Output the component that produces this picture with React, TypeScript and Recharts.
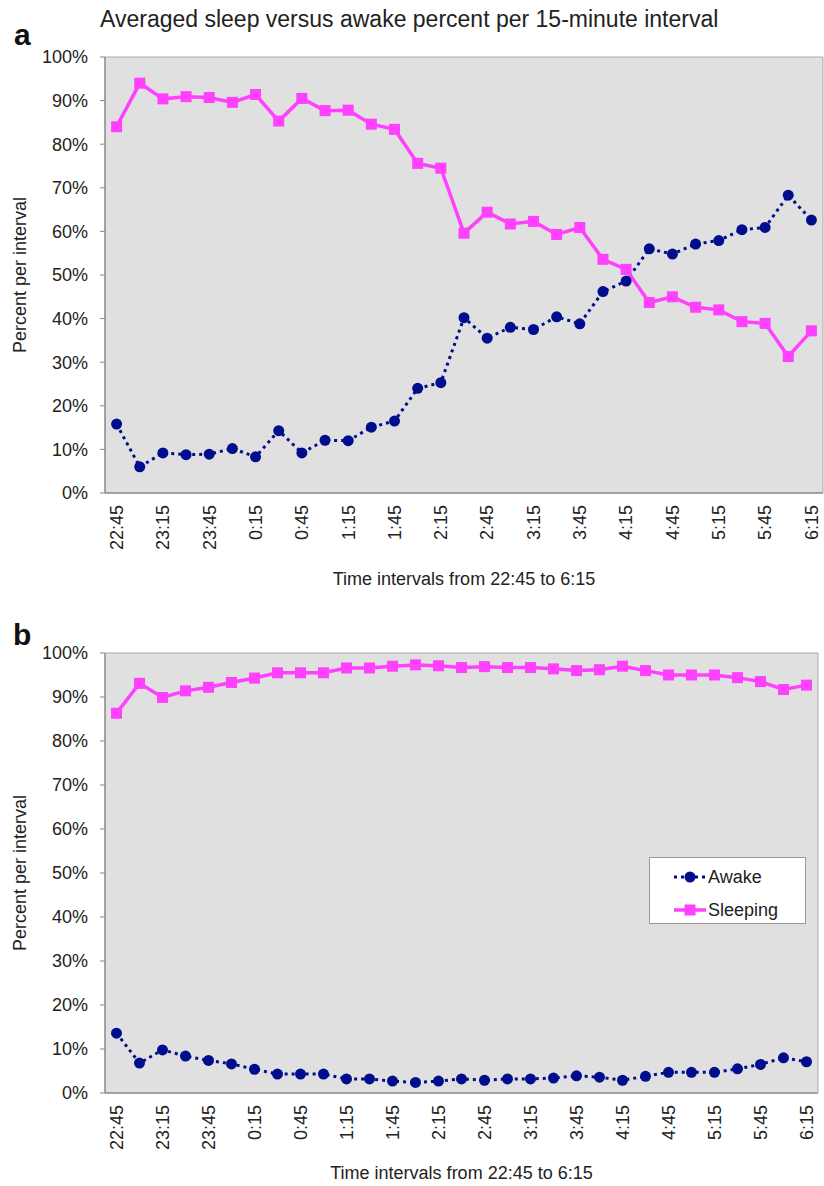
import React from 'react';
import { LineChart, Line, XAxis, YAxis, CartesianGrid, Legend } from 'recharts';

// 15-minute intervals from 22:45 to 6:15
const times = [
  '22:45', '23:00', '23:15', '23:30', '23:45', '0:00', '0:15', '0:30', '0:45', '1:00', '1:15',
  '1:30', '1:45', '2:00', '2:15', '2:30', '2:45', '3:00', '3:15', '3:30', '3:45', '4:00',
  '4:15', '4:30', '4:45', '5:00', '5:15', '5:30', '5:45', '6:00', '6:15',
];

// panel a
const awakeA = [15.8, 6.0, 9.2, 8.8, 8.9, 10.2, 8.3, 14.3, 9.2, 12.1, 12.0, 15.1, 16.5, 24.0, 25.3, 40.2, 35.5, 38.0, 37.5, 40.4, 38.8, 46.2, 48.6, 56.0, 54.8, 57.1, 57.9, 60.4, 60.9, 68.3, 62.6];
const sleepingA = [84.0, 94.0, 90.4, 90.9, 90.7, 89.6, 91.4, 85.3, 90.5, 87.7, 87.8, 84.6, 83.4, 75.6, 74.5, 59.6, 64.4, 61.7, 62.3, 59.3, 60.9, 53.6, 51.3, 43.7, 45.0, 42.6, 42.0, 39.3, 38.9, 31.3, 37.2];

// panel b
const awakeB = [13.6, 6.8, 9.8, 8.4, 7.4, 6.6, 5.4, 4.3, 4.3, 4.3, 3.2, 3.2, 2.7, 2.4, 2.7, 3.2, 2.9, 3.2, 3.2, 3.4, 3.9, 3.6, 2.9, 3.8, 4.7, 4.7, 4.7, 5.5, 6.5, 8.0, 7.1];
const sleepingB = [86.3, 93.1, 89.9, 91.4, 92.2, 93.3, 94.3, 95.5, 95.5, 95.5, 96.6, 96.6, 97.0, 97.3, 97.1, 96.7, 96.9, 96.7, 96.7, 96.4, 96.0, 96.2, 97.0, 96.0, 95.0, 95.0, 95.0, 94.4, 93.5, 91.7, 92.7];

const percentTicks = [0, 10, 20, 30, 40, 50, 60, 70, 80, 90, 100];
// tick marks sit between the categories, not under them
const bandEdges = times.map((_, i) => i).concat(times.length);

const NAVY = '#000d8c';
const MAGENTA = '#ff40ff';
const TEXT = '#222';
const AXIS = '#888';
const FONT = '"Liberation Sans", Arial, Helvetica, sans-serif';

const TimeTick = ({ x, y, payload }: any) => (
  <g transform={`translate(${x},${y})`}>
    <text transform="rotate(-90)" x={-11} dy="0.35em" textAnchor="end" fill={TEXT} fontSize={18}>
      {payload.value}
    </text>
  </g>
);

const SquareDot = (props: any) => {
  const { cx, cy, index } = props;
  if (cx == null || cy == null) return <g key={`sq-${index}`} />;
  return <rect key={`sq-${index}`} x={cx - 5.5} y={cy - 5.5} width={11} height={11} fill={MAGENTA} />;
};

const LegendBox = () => (
  <div style={{ position: 'relative', width: 157, height: 67, boxSizing: 'border-box', background: '#fff', border: '1px solid #999', fontFamily: FONT }}>
    <div style={{ position: 'absolute', left: 23, top: 8, display: 'flex', alignItems: 'center', height: 22 }}>
      <svg width={34} height={14}>
        <line x1={1} y1={7} x2={33} y2={7} stroke={NAVY} strokeWidth={3} strokeDasharray="3 4" />
        <circle cx={17} cy={7} r={5.5} fill={NAVY} />
      </svg>
      <span style={{ fontSize: 18, color: TEXT, marginLeft: 1 }}>Awake</span>
    </div>
    <div style={{ position: 'absolute', left: 23, top: 41, display: 'flex', alignItems: 'center', height: 22 }}>
      <svg width={34} height={14}>
        <line x1={1} y1={7} x2={33} y2={7} stroke={MAGENTA} strokeWidth={3.5} />
        <rect x={11.5} y={1.5} width={11} height={11} fill={MAGENTA} />
      </svg>
      <span style={{ fontSize: 18, color: TEXT, marginLeft: 1 }}>Sleeping</span>
    </div>
  </div>
);

interface PanelProps {
  awake: number[];
  sleeping: number[];
  top: number;
  height: number;
  marginTop: number;
  marginRight: number;
  axisHeight: number;
  titleOffset: number;
  legend?: boolean;
}

const Panel: React.FC<PanelProps> = ({ awake, sleeping, top, height, marginTop, marginRight, axisHeight, titleOffset, legend }) => {
  const rows = times.map((t, i) => ({ time: t, awake: awake[i], sleeping: sleeping[i] }));
  return (
    <div style={{ position: 'absolute', left: 0, top }}>
      <LineChart width={824} height={height} data={rows} margin={{ top: marginTop, right: marginRight, left: 0, bottom: 0 }}>
        <CartesianGrid fill="#e0e0e0" horizontal={false} vertical={false} />
        <XAxis
          xAxisId="edges"
          type="number"
          domain={[0, times.length]}
          allowDataOverflow
          ticks={bandEdges}
          tick={false}
          tickLine={{ stroke: AXIS }}
          tickSize={6}
          axisLine={{ stroke: AXIS, strokeWidth: 1.5 }}
          height={1}
        />
        <XAxis
          xAxisId="main"
          dataKey="time"
          scale="band"
          interval={1}
          tick={<TimeTick />}
          tickLine={false}
          tickSize={0}
          tickMargin={0}
          axisLine={false}
          height={axisHeight}
          label={{ value: 'Time intervals from 22:45 to 6:15', position: 'insideBottom', offset: titleOffset, fill: TEXT, fontSize: 18 }}
        />
        <XAxis xAxisId="top" orientation="top" dataKey="time" height={1} tick={false} tickLine={false} axisLine={{ stroke: '#aaa' }} />
        <YAxis
          domain={[0, 100]}
          ticks={percentTicks}
          tickFormatter={(v: number) => `${v}%`}
          width={105}
          tick={{ fill: TEXT, fontSize: 18 }}
          tickLine={{ stroke: AXIS }}
          tickSize={5}
          tickMargin={12}
          axisLine={{ stroke: AXIS, strokeWidth: 1.5 }}
          label={{ value: 'Percent per interval', angle: -90, position: 'insideLeft', offset: 20, fill: TEXT, fontSize: 18, style: { textAnchor: 'middle' } }}
        />
        <YAxis yAxisId="right" orientation="right" domain={[0, 100]} width={1} tick={false} tickLine={false} axisLine={{ stroke: '#aaa' }} />
        <Line
          xAxisId="main"
          dataKey="awake"
          name="Awake"
          stroke={NAVY}
          strokeWidth={3}
          strokeDasharray="3 4"
          dot={{ r: 5.5, fill: NAVY, stroke: 'none' }}
          isAnimationActive={false}
        />
        <Line
          xAxisId="main"
          dataKey="sleeping"
          name="Sleeping"
          stroke={MAGENTA}
          strokeWidth={3.5}
          dot={SquareDot}
          isAnimationActive={false}
        />
        {legend && (
          <Legend
            layout="horizontal"
            align="center"
            verticalAlign="middle"
            content={() => <LegendBox />}
            wrapperStyle={{ left: 649, top: 257, width: 157, height: 67 }}
          />
        )}
      </LineChart>
    </div>
  );
};

export default function App() {
  return (
    <div style={{ position: 'absolute', left: 0, top: 0, width: 824, height: 1186, background: '#fff', fontFamily: FONT }}>
      <svg width={824} height={1186} style={{ position: 'absolute', left: 0, top: 0 }}>
        <text x={100} y={27} fontSize={23} fill={TEXT}>Averaged sleep versus awake percent per 15-minute interval</text>
        <text x={14} y={45} fontSize={30} fontWeight="bold" fill="#111">a</text>
        <text x={13} y={645} fontSize={30} fontWeight="bold" fill="#111">b</text>
      </svg>
      <Panel awake={awakeA} sleeping={sleepingA} top={0} height={593} marginTop={56} marginRight={0} axisHeight={99} titleOffset={8} />
      <Panel awake={awakeB} sleeping={sleepingB} top={600} height={586} marginTop={52} marginRight={5} axisHeight={92} titleOffset={7} legend />
    </div>
  );
}
